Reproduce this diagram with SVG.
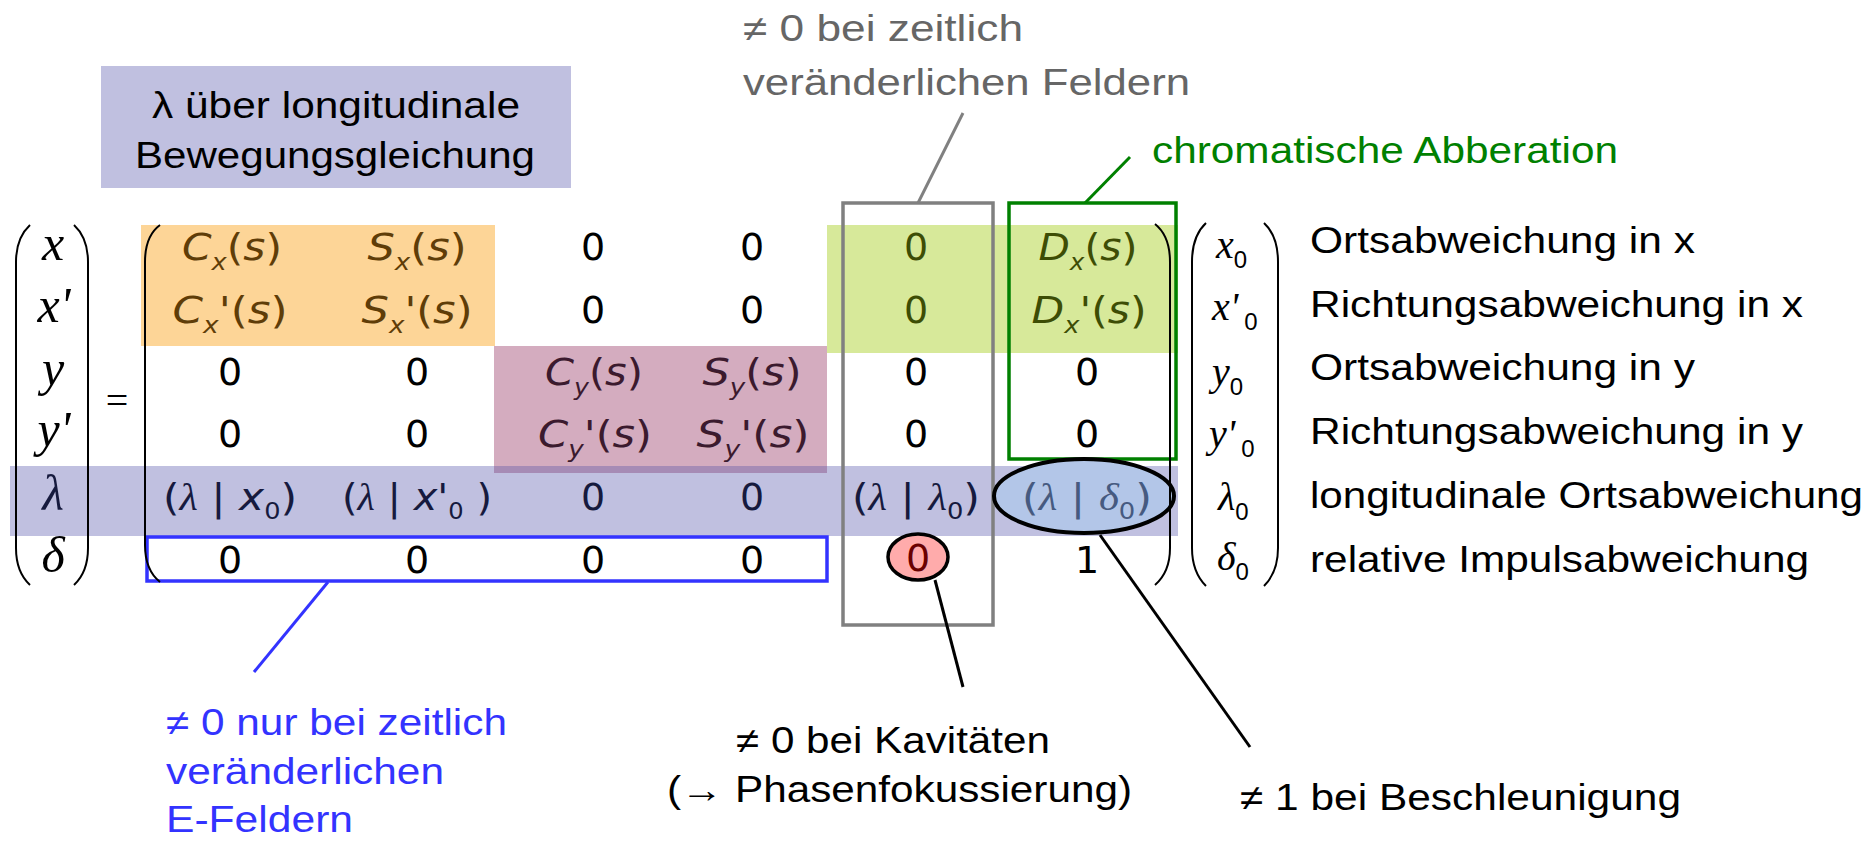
<svg xmlns="http://www.w3.org/2000/svg" width="1872" height="841" viewBox="0 0 1872 841">
<style>
.lbl{font-family:"Liberation Sans",Arial,sans-serif;font-size:36px}
.m{font-family:"DejaVu Sans",sans-serif;font-size:38px;text-anchor:middle}
.z{font-family:"DejaVu Sans",sans-serif;font-size:38px;text-anchor:middle}
.i{font-style:italic}
.sb{font-size:23px;font-style:normal}
.gk{font-family:"Liberation Serif",serif;font-style:italic}
.vl{font-family:"Liberation Serif",serif;font-style:italic;font-size:50px;text-anchor:middle}
.vr{font-family:"Liberation Serif",serif;font-style:italic;font-size:40px}
.vs{font-family:"Liberation Sans",sans-serif;font-style:normal;font-size:24px}
.br{fill:none;stroke:#000;stroke-width:2}
.con{fill:none;stroke-width:3}
</style>

<g id="highlights">
<rect x="141" y="225" width="354" height="121" fill="#fdd597"/>
<rect x="827" y="225" width="351" height="128" fill="#d7e99a"/>
<rect x="494" y="346" width="333" height="127" fill="#d4acbf"/>
<rect x="10" y="466" width="1168" height="70" fill="#c0c0e0"/>
<rect x="494" y="466" width="333" height="7" fill="#a68bb5"/>
</g>

<g id="box-gray">
<rect x="843" y="203" width="150" height="422" fill="none" stroke="#808080" stroke-width="3.5"/>
</g>
<g id="box-green">
<rect x="1009" y="203" width="167" height="256" fill="none" stroke="#008000" stroke-width="3.5"/>
</g>
<g id="box-blue">
<rect x="147" y="537" width="680" height="44" fill="none" stroke="#3333ff" stroke-width="3.5"/>
</g>
<g id="ellipse-blue">
<ellipse cx="1084" cy="496" rx="90" ry="37" fill="#b3c6e8" stroke="#000" stroke-width="4"/>
</g>
<g id="ellipse-red">
<ellipse cx="918" cy="557" rx="30" ry="23" fill="#ffabab" stroke="#000" stroke-width="3.5"/>
</g>

<g id="note-lambda">
<rect x="101" y="66" width="470" height="122" fill="#c0c0e0"/>
<text class="lbl" x="152" y="118" textLength="368" lengthAdjust="spacingAndGlyphs">λ über longitudinale</text>
<text class="lbl" x="135" y="168" textLength="400" lengthAdjust="spacingAndGlyphs">Bewegungsgleichung</text>
</g>

<g id="note-gray" fill="#666666">
<text class="lbl" x="743" y="41" textLength="280" lengthAdjust="spacingAndGlyphs">≠ 0 bei zeitlich</text>
<text class="lbl" x="743" y="95" textLength="447" lengthAdjust="spacingAndGlyphs">veränderlichen Feldern</text>
</g>

<g id="note-green" fill="#008000">
<text class="lbl" x="1152" y="163" textLength="466" lengthAdjust="spacingAndGlyphs">chromatische Abberation</text>
</g>

<g id="note-blue" fill="#3333ff">
<text class="lbl" x="166" y="735" textLength="341" lengthAdjust="spacingAndGlyphs">≠ 0 nur bei zeitlich</text>
<text class="lbl" x="166" y="784" textLength="278" lengthAdjust="spacingAndGlyphs">veränderlichen</text>
<text class="lbl" x="166" y="832" textLength="187" lengthAdjust="spacingAndGlyphs">E-Feldern</text>
</g>

<g id="note-kavitaeten">
<text class="lbl" x="736" y="753" textLength="314" lengthAdjust="spacingAndGlyphs">≠ 0 bei Kavitäten</text>
<text class="lbl" x="667" y="802" textLength="465" lengthAdjust="spacingAndGlyphs">(→ Phasenfokussierung)</text>
</g>

<g id="note-beschleunigung">
<text class="lbl" x="1240" y="810" textLength="441" lengthAdjust="spacingAndGlyphs">≠ 1 bei Beschleunigung</text>
</g>

<g id="vector-left">
<path class="br" d="M30 225 Q16 238 16 262 L16 548 Q16 572 30 585"/>
<path class="br" d="M74 225 Q88 238 88 262 L88 548 Q88 572 74 585"/>
<text class="vl" x="53" y="260">x</text>
<text class="vl" x="54" y="322">x'</text>
<text class="vl" x="53" y="385">y</text>
<text class="vl" x="54" y="446">y'</text>
<text class="vl" x="53" y="510" fill="#161a3e">λ</text>
<text class="vl" x="53" y="572">δ</text>
</g>

<g id="equals">
<text x="117" y="414" font-family="Liberation Serif,serif" font-size="40" text-anchor="middle">=</text>
</g>

<g id="matrix">
<path class="br" d="M160 225 Q145 236 145 262 L145 545 Q145 570 160 582"/>
<path class="br" d="M1155 224 Q1170 236 1170 262 L1170 548 Q1170 572 1155 585"/>
<!-- row 1 -->
<text class="m" x="232" y="260" textLength="100" lengthAdjust="spacingAndGlyphs" fill="#5f3d08"><tspan class="i">C</tspan><tspan class="sb" dy="10" style="font-style:italic">x</tspan><tspan dy="-10">(</tspan><tspan class="i">s</tspan>)</text>
<text class="m" x="417" y="260" textLength="99" lengthAdjust="spacingAndGlyphs" fill="#5f3d08"><tspan class="i">S</tspan><tspan class="sb" dy="10" style="font-style:italic">x</tspan><tspan dy="-10">(</tspan><tspan class="i">s</tspan>)</text>
<text class="z" x="593" y="260">0</text>
<text class="z" x="752" y="260">0</text>
<text class="z" x="916" y="260" fill="#3d4d05">0</text>
<text class="m" x="1088" y="260" textLength="99" lengthAdjust="spacingAndGlyphs" fill="#3d4d05"><tspan class="i">D</tspan><tspan class="sb" dy="10" style="font-style:italic">x</tspan><tspan dy="-10">(</tspan><tspan class="i">s</tspan>)</text>
<!-- row 2 -->
<text class="m" x="230" y="323" textLength="115" lengthAdjust="spacingAndGlyphs" fill="#5f3d08"><tspan class="i">C</tspan><tspan class="sb" dy="10" style="font-style:italic">x</tspan><tspan dy="-10">'(</tspan><tspan class="i">s</tspan>)</text>
<text class="m" x="417" y="323" textLength="111" lengthAdjust="spacingAndGlyphs" fill="#5f3d08"><tspan class="i">S</tspan><tspan class="sb" dy="10" style="font-style:italic">x</tspan><tspan dy="-10">'(</tspan><tspan class="i">s</tspan>)</text>
<text class="z" x="593" y="323">0</text>
<text class="z" x="752" y="323">0</text>
<text class="z" x="916" y="323" fill="#3d4d05">0</text>
<text class="m" x="1089" y="323" textLength="115" lengthAdjust="spacingAndGlyphs" fill="#3d4d05"><tspan class="i">D</tspan><tspan class="sb" dy="10" style="font-style:italic">x</tspan><tspan dy="-10">'(</tspan><tspan class="i">s</tspan>)</text>
<!-- row 3 -->
<text class="z" x="230" y="385">0</text>
<text class="z" x="417" y="385">0</text>
<text class="m" x="594" y="385" textLength="98" lengthAdjust="spacingAndGlyphs" fill="#3b1a2e"><tspan class="i">C</tspan><tspan class="sb" dy="10" style="font-style:italic">y</tspan><tspan dy="-10">(</tspan><tspan class="i">s</tspan>)</text>
<text class="m" x="752" y="385" textLength="99" lengthAdjust="spacingAndGlyphs" fill="#3b1a2e"><tspan class="i">S</tspan><tspan class="sb" dy="10" style="font-style:italic">y</tspan><tspan dy="-10">(</tspan><tspan class="i">s</tspan>)</text>
<text class="z" x="916" y="385">0</text>
<text class="z" x="1087" y="385">0</text>
<!-- row 4 -->
<text class="z" x="230" y="447">0</text>
<text class="z" x="417" y="447">0</text>
<text class="m" x="595" y="447" textLength="114" lengthAdjust="spacingAndGlyphs" fill="#3b1a2e"><tspan class="i">C</tspan><tspan class="sb" dy="10" style="font-style:italic">y</tspan><tspan dy="-10">'(</tspan><tspan class="i">s</tspan>)</text>
<text class="m" x="753" y="447" textLength="113" lengthAdjust="spacingAndGlyphs" fill="#3b1a2e"><tspan class="i">S</tspan><tspan class="sb" dy="10" style="font-style:italic">y</tspan><tspan dy="-10">'(</tspan><tspan class="i">s</tspan>)</text>
<text class="z" x="916" y="447">0</text>
<text class="z" x="1087" y="447">0</text>
<!-- row 5 -->
<text class="m" x="230" y="510" textLength="134" lengthAdjust="spacingAndGlyphs" fill="#161a3e">(<tspan class="gk">λ</tspan> | <tspan class="i">x</tspan><tspan class="sb" dy="9">0</tspan><tspan dy="-9">)</tspan></text>
<text class="m" x="417" y="510" textLength="150" lengthAdjust="spacingAndGlyphs" fill="#161a3e">(<tspan class="gk">λ</tspan> | <tspan class="i">x</tspan>'<tspan class="sb" dy="9">0</tspan><tspan dy="-9"> )</tspan></text>
<text class="z" x="593" y="510" fill="#161a3e">0</text>
<text class="z" x="752" y="510" fill="#161a3e">0</text>
<text class="m" x="916" y="510" textLength="128" lengthAdjust="spacingAndGlyphs" fill="#161a3e">(<tspan class="gk">λ</tspan> | <tspan class="gk">λ</tspan><tspan class="sb" dy="9">0</tspan><tspan dy="-9">)</tspan></text>
<text class="m" x="1087" y="510" textLength="130" lengthAdjust="spacingAndGlyphs" fill="#465a80">(<tspan class="gk">λ</tspan> | <tspan class="gk">δ</tspan><tspan class="sb" dy="9">0</tspan><tspan dy="-9">)</tspan></text>
<!-- row 6 -->
<text class="z" x="230" y="573">0</text>
<text class="z" x="417" y="573">0</text>
<text class="z" x="593" y="573">0</text>
<text class="z" x="752" y="573">0</text>
<text class="z" x="918" y="571" fill="#6a0000">0</text>
<text class="z" x="1087" y="573">1</text>
</g>

<g id="vector-right">
<path class="br" d="M1206 223 Q1192 236 1192 262 L1192 548 Q1192 572 1206 586"/>
<path class="br" d="M1264 223 Q1278 236 1278 262 L1278 548 Q1278 572 1264 586"/>
<text class="vr" x="1216" y="258">x<tspan class="vs" dy="10">0</tspan></text>
<text class="vr" x="1212" y="320">x'<tspan class="vs" dy="10" dx="6">0</tspan></text>
<text class="vr" x="1212" y="385">y<tspan class="vs" dy="10">0</tspan></text>
<text class="vr" x="1209" y="447">y'<tspan class="vs" dy="10" dx="6">0</tspan></text>
<text class="vr" x="1218" y="510">λ<tspan class="vs" dy="10">0</tspan></text>
<text class="vr" x="1217" y="570">δ<tspan class="vs" dy="10">0</tspan></text>
</g>

<g id="labels">
<text class="lbl" x="1310" y="253" textLength="385" lengthAdjust="spacingAndGlyphs">Ortsabweichung in x</text>
<text class="lbl" x="1310" y="317" textLength="493" lengthAdjust="spacingAndGlyphs">Richtungsabweichung in x</text>
<text class="lbl" x="1310" y="380" textLength="385" lengthAdjust="spacingAndGlyphs">Ortsabweichung in y</text>
<text class="lbl" x="1310" y="444" textLength="493" lengthAdjust="spacingAndGlyphs">Richtungsabweichung in y</text>
<text class="lbl" x="1310" y="508" textLength="553" lengthAdjust="spacingAndGlyphs">longitudinale Ortsabweichung</text>
<text class="lbl" x="1310" y="572" textLength="499" lengthAdjust="spacingAndGlyphs">relative Impulsabweichung</text>
</g>

<g id="connectors">
<line class="con" x1="918" y1="203" x2="963" y2="113" stroke="#808080"/>
<line class="con" x1="1085" y1="203" x2="1130" y2="157" stroke="#008000"/>
<line class="con" x1="328" y1="582" x2="254" y2="672" stroke="#3333ff"/>
<line class="con" x1="935" y1="580" x2="963" y2="687" stroke="#000"/>
<line class="con" x1="1100" y1="535" x2="1250" y2="747" stroke="#000"/>
</g>
</svg>
